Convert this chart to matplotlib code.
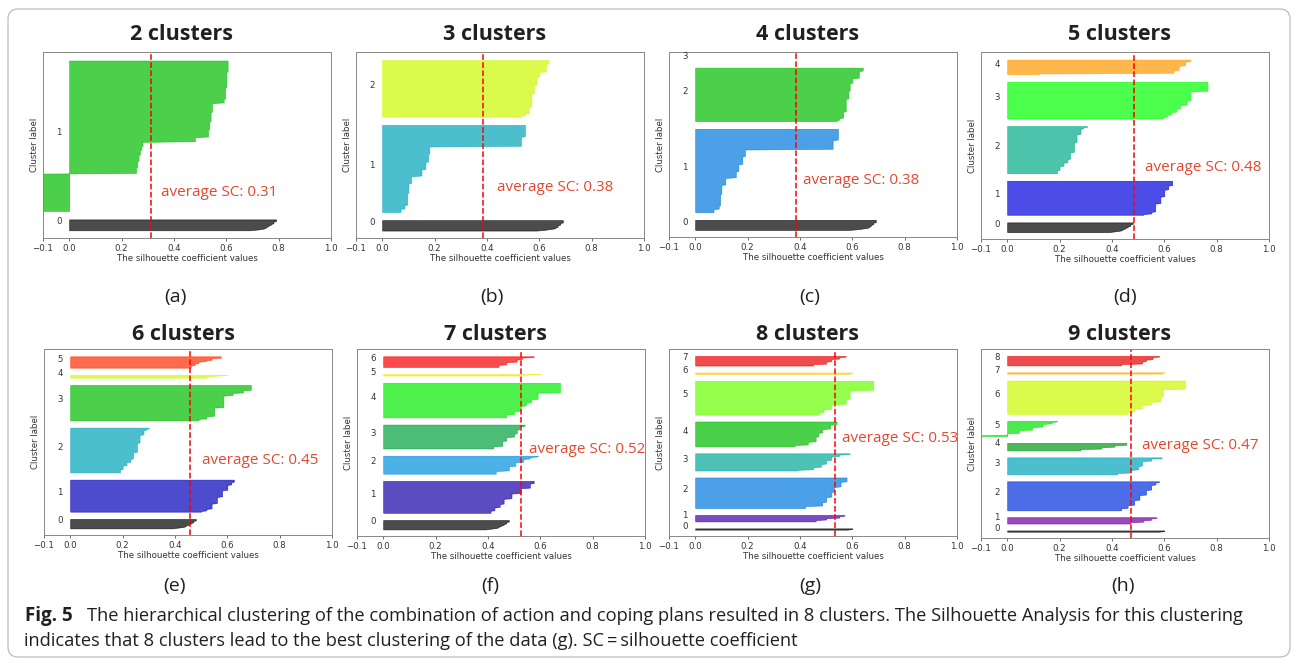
import numpy as np
import matplotlib
matplotlib.use('Agg')
import matplotlib.pyplot as plt
from matplotlib import cm
from matplotlib.patches import FancyBboxPatch

# ---- data ---------------------------------------------------------------
# every cluster is a list of (number of samples, silhouette value) runs,
# lowest value first (same order as the sorted silhouette plot)
n_clusters = [2, 3, 4, 5, 6, 7, 8, 9]
panel_tags = ['(a)', '(b)', '(c)', '(d)', '(e)', '(f)', '(g)', '(h)']
sc_mean = [0.314, 0.385, 0.385, 0.485, 0.457, 0.526, 0.533, 0.474]
sc_text = ['average SC: 0.31', 'average SC: 0.38', 'average SC: 0.38', 'average SC: 0.48',
           'average SC: 0.45', 'average SC: 0.52', 'average SC: 0.53', 'average SC: 0.47']

sil_2 = [
    [(1, 0.69), (1, 0.72), (1, 0.74), (2, 0.75), (2, 0.76), (2, 0.77), (3, 0.78), (3, 0.79)],
    [(49, -0.15), (8, 0.255), (8, 0.26), (8, 0.265), (6, 0.27), (5, 0.275), (6, 0.28), (6, 0.48),
     (10, 0.53), (10, 0.535), (12, 0.54), (12, 0.545), (5, 0.59), (15, 0.595), (20, 0.60), (15, 0.605)],
]
sil_3 = [
    [(1, 0.59), (1, 0.62), (1, 0.64), (2, 0.66), (3, 0.67), (3, 0.68), (4, 0.69)],
    [(5, 0.07), (5, 0.085), (16, 0.095), (13, 0.10), (10, 0.11), (9, 0.15), (10, 0.165), (11, 0.175),
     (10, 0.18), (13, 0.53), (16, 0.545)],
    [(2, 0.53), (3, 0.545), (9, 0.56), (18, 0.57), (11, 0.58), (11, 0.59), (7, 0.60), (11, 0.625), (5, 0.635)],
]
sil_4 = [
    [(1, 0.59), (1, 0.62), (1, 0.64), (2, 0.66), (3, 0.67), (3, 0.68), (4, 0.69)],
    [(5, 0.07), (5, 0.09), (16, 0.095), (13, 0.10), (10, 0.115), (9, 0.155), (10, 0.165), (11, 0.18),
     (10, 0.19), (13, 0.525), (16, 0.545)],
    [(2, 0.54), (3, 0.55), (9, 0.565), (18, 0.575), (11, 0.585), (11, 0.59), (7, 0.60), (10, 0.625), (5, 0.64)],
    [(1, 0.0)],
]
sil_5 = [
    [(1, 0.39), (1, 0.41), (1, 0.43), (2, 0.44), (2, 0.45), (2, 0.46), (3, 0.47), (3, 0.48)],
    [(2, 0.52), (3, 0.55), (12, 0.565), (10, 0.585), (10, 0.60), (6, 0.615), (7, 0.63)],
    [(5, 0.19), (6, 0.20), (5, 0.215), (5, 0.23), (10, 0.24), (14, 0.255), (12, 0.265), (8, 0.28),
     (2, 0.29), (2, 0.305)],
    [(3, 0.595), (3, 0.61), (4, 0.625), (5, 0.645), (5, 0.66), (7, 0.685), (13, 0.70), (14, 0.765)],
    [(2, 0.12), (4, 0.635), (7, 0.655), (6, 0.68), (3, 0.70)],
]
sil_6 = [
    [(1, 0.39), (1, 0.41), (1, 0.43), (2, 0.44), (2, 0.45), (2, 0.46), (3, 0.47), (3, 0.48)],
    [(2, 0.50), (3, 0.52), (8, 0.54), (10, 0.56), (10, 0.58), (8, 0.60), (4, 0.615), (4, 0.625)],
    [(5, 0.19), (6, 0.20), (5, 0.215), (5, 0.23), (10, 0.24), (14, 0.255), (12, 0.265), (7, 0.28),
     (2, 0.29), (2, 0.30)],
    [(3, 0.49), (4, 0.52), (13, 0.55), (18, 0.585), (4, 0.62), (4, 0.66), (8, 0.69)],
    [(3, 0.52), (1, 0.56), (1, 0.60)],
    [(4, 0.46), (3, 0.475), (3, 0.49), (2, 0.52), (3, 0.54), (3, 0.575)],
]
sil_7 = [
    [(1, 0.39), (1, 0.41), (1, 0.43), (2, 0.44), (2, 0.45), (2, 0.46), (3, 0.47), (3, 0.48)],
    [(4, 0.41), (5, 0.425), (5, 0.445), (8, 0.46), (8, 0.49), (8, 0.525), (7, 0.56), (4, 0.575)],
    [(5, 0.43), (7, 0.48), (6, 0.505), (5, 0.535), (3, 0.56), (2, 0.59)],
    [(4, 0.42), (8, 0.455), (6, 0.47), (5, 0.50), (6, 0.51), (5, 0.52), (3, 0.54)],
    [(5, 0.47), (5, 0.50), (8, 0.525), (5, 0.545), (5, 0.565), (10, 0.59), (15, 0.675)],
    [(2, 0.52), (1, 0.60)],
    [(4, 0.44), (4, 0.47), (4, 0.51), (3, 0.53), (2, 0.575)],
]
sil_8 = [
    [(1, 0.58), (2, 0.60)],
    [(3, 0.46), (3, 0.50), (3, 0.55), (2, 0.57)],
    [(4, 0.42), (6, 0.485), (8, 0.50), (8, 0.52), (8, 0.53), (8, 0.555), (7, 0.578)],
    [(2, 0.39), (4, 0.45), (5, 0.48), (6, 0.50), (6, 0.52), (3, 0.55), (2, 0.59)],
    [(3, 0.38), (5, 0.43), (8, 0.46), (6, 0.47), (6, 0.485), (7, 0.515), (5, 0.54)],
    [(4, 0.47), (5, 0.49), (8, 0.52), (8, 0.575), (14, 0.59), (15, 0.68)],
    [(2, 0.59), (1, 0.60)],
    [(3, 0.45), (4, 0.50), (4, 0.52), (3, 0.55), (2, 0.575)],
]
sil_9 = [
    [(1, 0.58), (2, 0.60)],
    [(3, 0.47), (3, 0.52), (3, 0.55), (2, 0.57)],
    [(4, 0.435), (5, 0.46), (8, 0.485), (8, 0.505), (8, 0.53), (8, 0.55), (4, 0.566), (2, 0.58)],
    [(3, 0.42), (5, 0.47), (6, 0.50), (8, 0.515), (4, 0.55), (2, 0.59)],
    [(3, 0.28), (3, 0.36), (3, 0.41), (4, 0.455)],
    [(2, -0.15), (3, 0.0), (5, 0.045), (5, 0.095), (5, 0.135), (3, 0.17), (2, 0.19)],
    [(4, 0.46), (5, 0.485), (6, 0.515), (5, 0.55), (8, 0.585), (12, 0.595), (14, 0.68)],
    [(2, 0.59), (1, 0.60)],
    [(3, 0.435), (4, 0.515), (3, 0.53), (4, 0.555), (2, 0.58)],
]
silhouettes = [sil_2, sil_3, sil_4, sil_5, sil_6, sil_7, sil_8, sil_9]

x_ticks = [-0.1, 0.0, 0.2, 0.4, 0.6, 0.8, 1.0]
caption_bold = 'Fig. 5'
caption_1 = ('The hierarchical clustering of the combination of action and coping plans resulted in 8 clusters. '
             'The Silhouette Analysis for this clustering')
caption_2 = 'indicates that 8 clusters lead to the best clustering of the data (g). SC\u2009=\u2009silhouette coefficient'

# ---- layout (pixels of the 1295x665 picture) ------------------------------
W, H = 1295, 665
lefts = [43, 356, 669, 981, 44, 357, 669, 981]
tops = [52, 52, 52, 52, 349, 349, 349, 349]
heights = [186, 186, 185, 187, 186, 187, 187, 189]
ax_w = 288
txt_x = [0.352, 0.439, 0.411, 0.526, 0.504, 0.558, 0.559, 0.516]
txt_y = [0.247, 0.271, 0.308, 0.38, 0.40, 0.465, 0.524, 0.487]
tag_x = [175, 492, 810, 1125, 175, 490, 810, 1123]
tag_y = [297, 297, 297, 297, 586, 586, 586, 586]
title_y = [35, 35, 35, 35, 335, 335, 335, 335]

sans = ['Open Sans', 'DejaVu Sans']
dark = '#231f20'
sc_col = '#e5472f'


def fx(x):
    return x / W


def fy(y):
    return 1 - y / H


fig = plt.figure(figsize=(W / 100, H / 100), dpi=100)

for p, clusters in enumerate(silhouettes):
    k = n_clusters[p]
    ax = fig.add_axes([fx(lefts[p]), fy(tops[p] + heights[p]), ax_w / W, heights[p] / H])
    y_lower = 10
    for i, runs in enumerate(clusters):
        vals = np.repeat([v for n, v in runs], [n for n, v in runs])
        size = len(vals)
        y_upper = y_lower + size
        color = cm.nipy_spectral(float(i) / k)
        ax.fill_betweenx(np.arange(y_lower, y_upper), 0, vals,
                         facecolor=color, edgecolor=color, alpha=0.7, linewidth=0.5)
        ax.text(-0.05, y_lower + 0.5 * size, str(i), fontsize=6.2, color='#333333')
        y_lower = y_upper + 10
    ax.set_ylim(0, y_lower)
    ax.set_xlim(-0.1, 1.0)
    ax.axvline(x=sc_mean[p], color='red', linestyle='--', linewidth=1.1)
    ax.text(txt_x[p], txt_y[p], sc_text[p], transform=ax.get_xaxis_transform(),
            color=sc_col, fontsize=11, family=sans, va='center', ha='left')
    ax.set_yticks([])
    ax.set_xticks(x_ticks)
    ax.tick_params(axis='x', labelsize=6.2, length=2.5, width=0.6, pad=1.5,
                   colors='#555555', labelcolor='#333333')
    ax.set_xlabel('The silhouette coefficient values', fontsize=6.2, color='#333333', labelpad=1)
    ax.set_ylabel('Cluster label', fontsize=6.2, color='#333333', labelpad=3)
    for s in ax.spines.values():
        s.set_color('#888888')
        s.set_linewidth(0.7)

    cx = lefts[p] + ax_w / 2 - 5
    fig.text(fx(cx), fy(title_y[p]), f'{k} clusters', family=sans, fontweight='bold',
             fontsize=15.5, color=dark, ha='center', va='center')
    fig.text(fx(tag_x[p]), fy(tag_y[p]), panel_tags[p], family=sans, fontsize=14,
             color=dark, ha='center', va='center')

# caption
fig.text(fx(25), fy(621), caption_bold, family=sans, fontweight='bold', fontsize=13.5,
         color=dark, ha='left', va='baseline')
fig.text(fx(87), fy(621), caption_1, family=sans, fontsize=13.15, color=dark, ha='left', va='baseline')
fig.text(fx(24), fy(646), caption_2, family=sans, fontsize=13.15, color=dark, ha='left', va='baseline')

# rounded frame around the whole figure
frame = FancyBboxPatch((0.08, 0.08), 12.82, 6.48, boxstyle='round,pad=0,rounding_size=0.1',
                       transform=fig.dpi_scale_trans, facecolor='none', edgecolor='#bdbdbd',
                       linewidth=0.9)
fig.add_artist(frame)

fig.savefig('out.png', dpi=100)
